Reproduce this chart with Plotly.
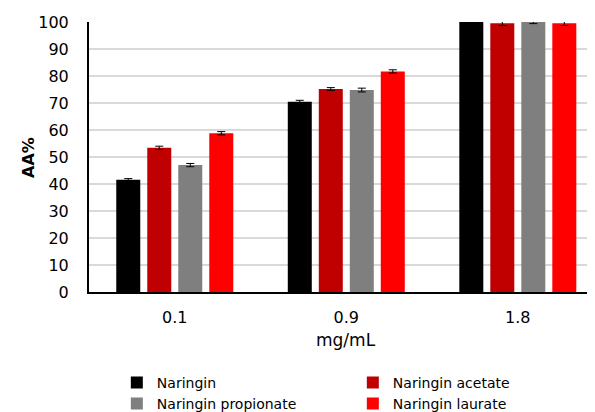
import plotly.graph_objects as go

categories = ["0.1", "0.9", "1.8"]
series_names = ["Naringin", "Naringin acetate", "Naringin propionate", "Naringin laurate"]
naringin = [41.6, 70.5, 100.0]
naringin_acetate = [53.4, 75.2, 99.5]
naringin_propionate = [47.0, 74.8, 100.0]
naringin_laurate = [58.8, 81.7, 99.5]
err_naringin = [0.4, 0.5, 0.2]
err_acetate = [0.6, 0.5, 0.8]
err_propionate = [0.6, 0.7, 0.6]
err_laurate = [0.6, 0.6, 0.8]
colors = ["#000000", "#C00000", "#7F7F7F", "#FF0000"]

values = [naringin, naringin_acetate, naringin_propionate, naringin_laurate]
errors = [err_naringin, err_acetate, err_propionate, err_laurate]

FONT = "DejaVu Sans"

fig = go.Figure()
for name, vals, errs, col in zip(series_names, values, errors, colors):
    fig.add_trace(go.Bar(
        x=categories, y=vals, name=name,
        marker=dict(color=col, line=dict(width=0)),
        error_y=dict(type="data", array=errs, visible=True, color="#000000",
                     thickness=1, width=4),
    ))

# page body has an 8px default margin, so the figure is sized to the visible area
fig.update_layout(
    width=587, height=404,
    margin=dict(l=81, r=0, t=14, b=120, autoexpand=False),
    paper_bgcolor="white", plot_bgcolor="white",
    barmode="group", bargap=0.277, bargroupgap=0.226,
    font=dict(family=FONT, size=16, color="#000000"),
    showlegend=True,
    legend=dict(orientation="h", x=0.055, xanchor="left", y=-0.277, yanchor="top",
                entrywidth=191, entrywidthmode="pixels",
                font=dict(family=FONT, size=14), traceorder="normal",
                tracegroupgap=0, itemclick=False, itemdoubleclick=False),
    xaxis=dict(range=[-0.5, 2.45], showgrid=False, showline=True, linecolor="#000000",
               linewidth=1.5, ticks="outside", ticklen=10, tickcolor="rgba(0,0,0,0)",
               tickfont=dict(size=16), fixedrange=True, automargin=False),
    yaxis=dict(range=[0, 100], dtick=10, showgrid=True, gridcolor="#D9D9D9", gridwidth=1.5,
               showline=True, linecolor="#000000", linewidth=2, zeroline=False,
               ticks="outside", ticklen=15, tickcolor="rgba(0,0,0,0)",
               tickfont=dict(size=16), automargin=False, fixedrange=True),
    annotations=[
        dict(text="mg/mL", x=1, xref="x", y=-0.176, yref="paper",
             showarrow=False, font=dict(size=17), xanchor="center", yanchor="middle"),
        dict(text="<b>AA%</b>", x=-0.1206, xref="paper", y=0.5, yref="paper",
             textangle=-90, showarrow=False, font=dict(size=16),
             xanchor="center", yanchor="middle"),
    ],
)

fig.write_html("out.html")
